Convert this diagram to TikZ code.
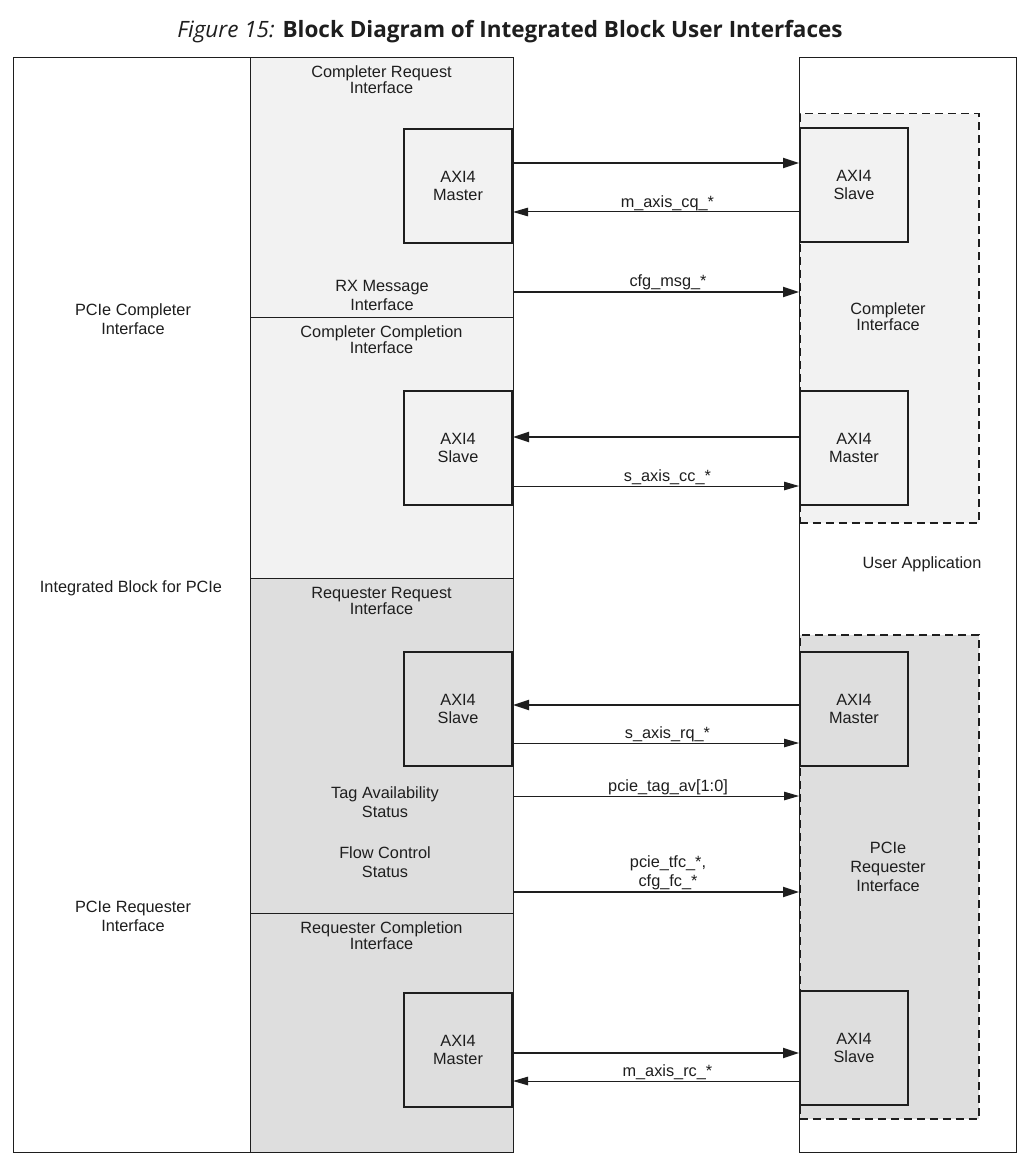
\documentclass[tikz,border=0pt]{standalone}
\usepackage{fontspec}
\setmainfont{Liberation Sans}
\newfontfamily\titlefont{Open Sans}
\usetikzlibrary{arrows.meta, positioning}
\definecolor{paneA}{HTML}{F2F2F2}
\definecolor{paneB}{HTML}{DEDEDE}
\definecolor{ink}{HTML}{1E1E1E}

\begin{document}
\begin{tikzpicture}[
  x=1pt, y=-1pt,
  every node/.style={text=ink},
  txt/.style={align=center, font=\fontsize{16.3}{19}\selectfont, inner sep=0pt},
  hdr/.style={align=center, font=\fontsize{16.3}{16}\selectfont, inner sep=0pt},
  frame/.style={draw=ink, line width=1.3pt, anchor=north west, inner sep=0pt},
  pane/.style={draw=ink, line width=1.3pt, anchor=north west, minimum width=263pt, inner sep=0pt},
  grp/.style={draw=ink, line width=1.5pt, dash pattern=on 8pt off 5pt, anchor=north west, minimum width=179pt, inner sep=0pt},
  axi/.style={draw=ink, line width=1.9pt, minimum width=108pt, minimum height=114pt, align=center, font=\fontsize{16.3}{18}\selectfont},
  bus/.style={draw=ink, line width=2pt, -{Triangle[length=16pt, width=10pt]}},
  sig/.style={draw=ink, line width=1pt, -{Triangle[length=15pt, width=8.5pt]}},
  lbl/.style={pos=#1, above=1pt, txt},
  lbl/.default=0.54
]
\fill[white] (0,0) rectangle (1018,1155);
\useasboundingbox (0,0) rectangle (1018,1155);

\node[font=\titlefont\fontsize{22.5}{26}\selectfont] (title) at (510,32)
  {{\itshape Figure 15:} \textbf{Block Diagram of Integrated Block User Interfaces}};

% outer frames
\node[frame, minimum width=500pt, minimum height=1095pt] (ib) at (13,57) {};
\node[frame, minimum width=217pt, minimum height=1095pt] (ua) at (799,57) {};

% interface panes of the integrated block
\node[pane, fill=paneA, minimum height=260pt] (crq) at (250,57) {};
\node[pane, fill=paneA, minimum height=261pt] (ccp) at (250,317) {};
\node[pane, fill=paneB, minimum height=335pt] (rrq) at (250,578) {};
\node[pane, fill=paneB, minimum height=239pt] (rcp) at (250,913) {};

% user side groups
\node[grp, fill=paneA, minimum height=409pt] (cif) at (799,113) {};
\node[grp, fill=paneB, minimum height=484pt] (rif) at (799,634) {};

\node[axi, fill=paneA, anchor=north east] (crqM) at (513,128) {AXI4\\Master};
\node[axi, fill=paneA, anchor=north east] (ccpS) at (513,390) {AXI4\\Slave};
\node[axi, fill=paneB, anchor=north east] (rrqS) at (513,651) {AXI4\\Slave};
\node[axi, fill=paneB, anchor=north east] (rcpM) at (513,992) {AXI4\\Master};
\node[axi, fill=paneA, anchor=north west] (cifS) at (799,127) {AXI4\\Slave};
\node[axi, fill=paneA, anchor=north west] (cifM) at (799,390) {AXI4\\Master};
\node[axi, fill=paneB, anchor=north west] (rifM) at (799,651) {AXI4\\Master};
\node[axi, fill=paneB, anchor=north west] (rifS) at (799,990) {AXI4\\Slave};

\node[txt] (pcil) at (133,319) {PCIe Completer\\Interface};
\node[txt] (ibl) at (131,588) {Integrated Block for PCIe};
\node[txt] (pril) at (133,916) {PCIe Requester\\Interface};
\node[hdr] (crql) at (381.5,80) {Completer Request\\Interface};
\node[txt] (rxl) at (382,295) {RX Message\\Interface};
\node[hdr] (ccpl) at (381.5,340) {Completer Completion\\Interface};
\node[hdr] (rrql) at (381.5,601) {Requester Request\\Interface};
\node[txt] (tagl) at (385,802) {Tag Availability\\Status};
\node[txt] (fcl) at (385,862) {Flow Control\\Status};
\node[hdr] (rcpl) at (381.5,936) {Requester Completion\\Interface};
\node[hdr] (cifl) at (888,316.5) {Completer\\Interface};
\node[txt] (ual) at (922,564) {User Application};
\node[txt] (rifl) at (888,866.5) {PCIe\\Requester\\Interface};

\foreach \n/\y in {1/163, 2/212, 3/292, 4/437, 5/486, 6/705, 7/743, 8/796, 9/892, 10/1053, 11/1081}
  \coordinate (r\n) at (0,\y);

\draw[bus] (crqM.east |- r1) -- (cifS.west |- r1);
\draw[sig] (cifS.west |- r2) -- (crqM.east |- r2) node[lbl=0.46] {m\_axis\_cq\_*};
\draw[bus] (crq.east |- r3) -- (cif.west |- r3) node[lbl] {cfg\_msg\_*};
\draw[bus] (cifM.west |- r4) -- (ccpS.east |- r4);
\draw[sig] (ccpS.east |- r5) -- (cifM.west |- r5) node[lbl] {s\_axis\_cc\_*};
\draw[bus] (rifM.west |- r6) -- (rrqS.east |- r6);
\draw[sig] (rrqS.east |- r7) -- (rifM.west |- r7) node[lbl] {s\_axis\_rq\_*};
\draw[sig] (rrq.east |- r8) -- (rif.west |- r8) node[lbl] {pcie\_tag\_av[1:0]};
\draw[bus] (rrq.east |- r9) -- (rif.west |- r9) node[lbl] {pcie\_tfc\_*,\\cfg\_fc\_*};
\draw[bus] (rcpM.east |- r10) -- (rifS.west |- r10);
\draw[sig] (rifS.west |- r11) -- (rcpM.east |- r11) node[lbl=0.46] {m\_axis\_rc\_*};
\end{tikzpicture}
\end{document}
